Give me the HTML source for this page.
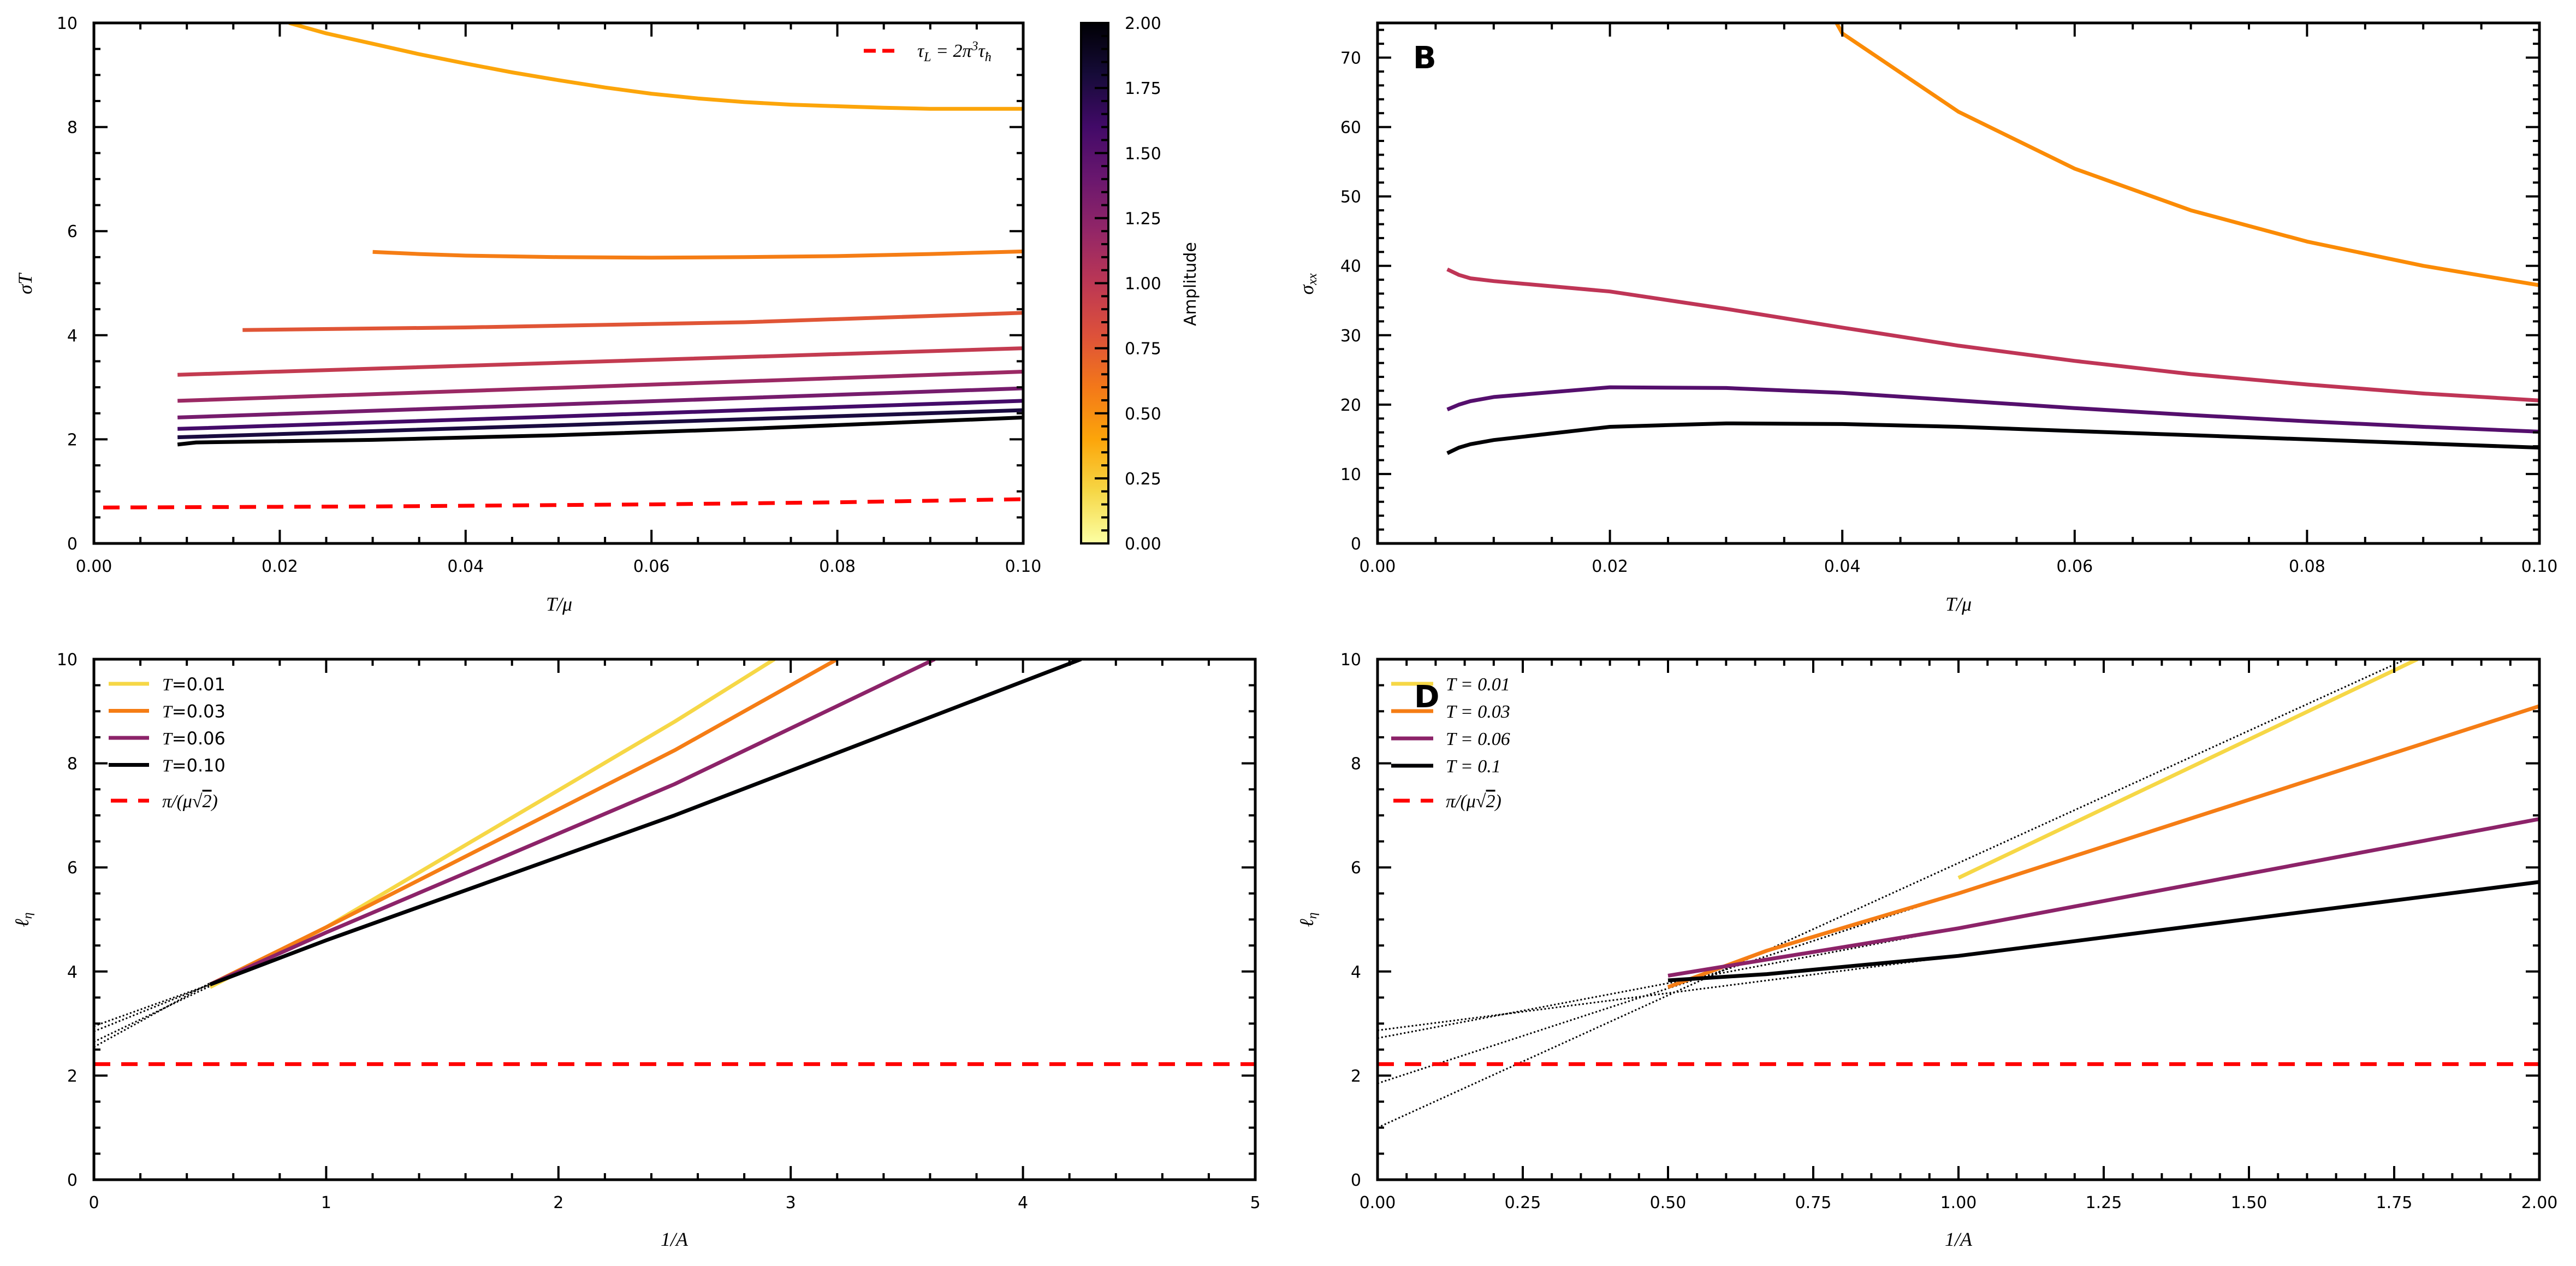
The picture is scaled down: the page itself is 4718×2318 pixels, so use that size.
<!DOCTYPE html>
<html><head><meta charset="utf-8"><style>
html,body{margin:0;padding:0;background:#fff;}
svg{display:block;}
text{font-family:"DejaVu Sans","Liberation Sans",sans-serif;}
.serif{font-family:"Liberation Serif","DejaVu Serif",serif;font-style:italic;}
</style></head><body>
<svg id="fig" xmlns="http://www.w3.org/2000/svg" width="4718" height="2318" viewBox="0 0 4718 2318">
<defs>
<linearGradient id="infernoGrad" x1="0" y1="1" x2="0" y2="0">
<stop offset="0" stop-color="#fcffa4"/><stop offset="0.1" stop-color="#f6d746"/><stop offset="0.2" stop-color="#fca50a"/><stop offset="0.3" stop-color="#f37819"/><stop offset="0.4" stop-color="#dd513a"/><stop offset="0.5" stop-color="#bc3754"/><stop offset="0.6" stop-color="#932667"/><stop offset="0.7" stop-color="#6a176e"/><stop offset="0.8" stop-color="#420a68"/><stop offset="0.9" stop-color="#160b39"/><stop offset="1" stop-color="#000004"/>
</linearGradient>
</defs>
</svg>
<script>
// ---------- Panel A data ----------
const aX1=[0.021,0.025,0.03,0.035,0.04,0.045,0.05,0.055,0.06,0.065,0.07,0.075,0.08,0.085,0.09,0.095,0.1];
const aY1=[10,9.8,9.6,9.4,9.22,9.05,8.9,8.76,8.64,8.55,8.48,8.43,8.4,8.37,8.35,8.35,8.35];
const aX2=[0.03,0.035,0.04,0.05,0.06,0.07,0.08,0.09,0.1];
const aY2=[5.6,5.56,5.53,5.5,5.49,5.5,5.52,5.56,5.61];
const aX3=[0.016,0.04,0.07,0.1];
const aY3=[4.1,4.15,4.25,4.43];
const aXs=[0.009,0.05,0.1];
const aY4=[3.24,3.47,3.75];
const aY5=[2.74,2.99,3.3];
const aY6=[2.42,2.67,2.98];
const aY7=[2.2,2.44,2.74];
const aY8=[2.04,2.27,2.56];
const aXk=[0.009,0.011,0.03,0.05,0.07,0.1];
const aYk=[1.9,1.94,1.99,2.08,2.2,2.42];
const aXr=[0.001,0.03,0.06,0.08,0.1];
const aYr=[0.69,0.71,0.75,0.79,0.85];
// ---------- Panel B data ----------
const bXo=[0.0395,0.04,0.05,0.06,0.07,0.08,0.09,0.1];
const bYo=[75,73.5,62.2,54,48,43.5,40,37.2];
const bX=[0.006,0.007,0.008,0.01,0.02,0.03,0.04,0.05,0.06,0.07,0.08,0.09,0.1];
const bYr=[39.5,38.7,38.2,37.8,36.3,33.8,31.1,28.5,26.3,24.4,22.9,21.6,20.6];
const bYp=[19.3,20,20.5,21.1,22.5,22.4,21.7,20.6,19.5,18.5,17.6,16.8,16.1];
const bYk=[13,13.8,14.3,14.9,16.8,17.3,17.2,16.8,16.2,15.6,15,14.4,13.8];
// ---------- Panel C data ----------
const cX=[0.5,1,2.5];
const cY1=[3.7,4.85,8.8]; const cXe1=2.93;
const cY3=[3.75,4.85,8.25]; const cXe3=3.2;
const cY6=[3.75,4.75,7.6]; const cXe6=3.62;
const cY10=[3.75,4.6,7.0]; const cXe10=4.25;
const cFitY0=[2.95,2.85,2.65,2.55];
const cFitY1=[3.75,3.75,3.72,3.78];
const cRed=2.22;
// ---------- Panel D data ----------
const dXy=[1.0,1.79]; const dYy=[5.8,10];
const dXo=[0.5,0.67,1.0,2.0]; const dYo=[3.7,4.4,5.5,9.1];
const dXp=[0.5,1.0,2.0]; const dYp=[3.92,4.83,6.93];
const dXk=[0.5,0.67,1.0,2.0]; const dYk=[3.83,3.95,4.3,5.72];
const dFitX1=[1.77,1.0,1.0,1.0];
const dFitY0=[1.0,1.85,2.72,2.87];
const dFitY1=[10,5.5,4.83,4.3];
const dRed=2.22;
// ---------- colorbar ----------
const cbTicks=[0,0.25,0.5,0.75,1.0,1.25,1.5,1.75,2.0];

const NS="http://www.w3.org/2000/svg";
const svg=document.getElementById('fig');
function el(tag,attrs,parent){const e=document.createElementNS(NS,tag);for(const k in attrs)e.setAttribute(k,attrs[k]);(parent||svg).appendChild(e);return e;}
function axes(name,px0,px1,py0,py1,x0,x1,y0,y1){
  const g=el('g',{});
  
  
  const cp=el('clipPath',{id:'clip-'+name},g);
  el('rect',{x:px0,y:py0,width:px1-px0,height:py1-py0},cp);
  const sx=v=>px0+(v-x0)/(x1-x0)*(px1-px0);
  const sy=v=>py1-(v-y0)/(y1-y0)*(py1-py0);
  const plot=el('g',{'clip-path':'url(#clip-'+name+')'},g);
  return {g,plot,sx,sy,px0,px1,py0,py1};
}
function frame(ax,xMaj,xMin,yMaj,yMin,xfmt,yfmt,x0,x1,y0,y1){
  const g=ax.g;
  const tk=el('g',{stroke:'#000','stroke-width':4},g);
  for(let i=0;x0+i*xMin<=x1+1e-9;i++){const v=x0+i*xMin;const isM=Math.abs(Math.round((v-x0)/xMaj)*xMaj-(v-x0))<1e-9;const L=isM?25:12;const X=ax.sx(v);
    el('line',{x1:X,x2:X,y1:ax.py1,y2:ax.py1-L},tk);el('line',{x1:X,x2:X,y1:ax.py0,y2:ax.py0+L},tk);}
  for(let i=0;y0+i*yMin<=y1+1e-9;i++){const v=y0+i*yMin;const isM=Math.abs(Math.round((v-y0)/yMaj)*yMaj-(v-y0))<1e-9;const L=isM?25:12;const Y=ax.sy(v);
    el('line',{y1:Y,y2:Y,x1:ax.px0,x2:ax.px0+L},tk);el('line',{y1:Y,y2:Y,x1:ax.px1,x2:ax.px1-L},tk);}
  for(let i=0;x0+i*xMaj<=x1+1e-9;i++){const v=x0+i*xMaj;const t=el('text',{x:ax.sx(v),y:ax.py1+52,'font-size':30,'text-anchor':'middle'},g);t.textContent=xfmt(v);
    
    }
  for(let i=0;y0+i*yMaj<=y1+1e-9;i++){const v=y0+i*yMaj;const t=el('text',{x:ax.px0-30,y:ax.sy(v)+11,'font-size':30,'text-anchor':'end'},g);t.textContent=yfmt(v);
    
    }
  el('rect',{x:ax.px0,y:ax.py0,width:ax.px1-ax.px0,height:ax.py1-ax.py0,fill:'none',stroke:'#000','stroke-width':5},g);
}
function line(ax,xs,ys,color,w,dash,name){
  const pts=xs.map((x,i)=>ax.sx(x).toFixed(1)+','+ax.sy(ys[i]).toFixed(1)).join(' ');
  const p=el('polyline',{points:pts,fill:'none',stroke:color,'stroke-width':w,'stroke-linejoin':'round'},ax.plot);
  if(dash)p.setAttribute('stroke-dasharray',dash);
  
  
  return p;
}
function txt(x,y,s,size,cls,anchor,name,extra){
  const t=el('text',Object.assign({x:x,y:y,'font-size':size,'text-anchor':anchor||'start'},extra||{}));
  if(cls)t.setAttribute('class',cls);
  t.innerHTML=s;
  
  
  return t;
}
const f2=v=>v.toFixed(2), f0=v=>String(Math.round(v));

// ===== Panel A =====
const A=axes('panel-a',172,1874,42,995,0,0.1,0,10);
line(A,aX1,aY1,'#fca50a',7,null,'curve-amp-0.4');
line(A,aX2,aY2,'#f57d15',7,null,'curve-amp-0.55');
line(A,aX3,aY3,'#e05536',7,null,'curve-amp-0.8');
line(A,aXs,aY4,'#c33b50',7,null,'curve-amp-1.0');
line(A,aXs,aY5,'#9b2964',7,null,'curve-amp-1.2');
line(A,aXs,aY6,'#761c6d',7,null,'curve-amp-1.4');
line(A,aXs,aY7,'#440b69',7,null,'curve-amp-1.6');
line(A,aXs,aY8,'#1a0b40',7,null,'curve-amp-1.8');
line(A,aXk,aYk,'#000004',7,null,'curve-amp-2.0');
line(A,aXr,aYr,'#ff0000',7,'30 20','tau-l-dashed');
frame(A,0.02,0.005,2,0.5,f2,f0,0,0.1,0,10);
el('line',{x1:1582,x2:1649,y1:93,y2:93,stroke:'#f00','stroke-width':7,'stroke-dasharray':'22 12'});
txt(1680,104,'τ<tspan font-size="24" dy="8">L</tspan><tspan dy="-8"> = 2π</tspan><tspan font-size="24" dy="-12">3</tspan><tspan dy="12">τ</tspan><tspan font-size="24" dy="8">ħ</tspan>',34,'serif','start','legend-tau-l');
txt(1024,1118,'T/μ',36,'serif','middle','x-axis-title-a');
txt(58,520,'σT',36,'serif','middle','y-axis-title-a',{transform:'rotate(-90 58 520)'});
// colorbar
const cb=el('g',{});


el('rect',{x:1980,y:42,width:50,height:953,fill:'url(#infernoGrad)'},cb);
for(let i=0;i<=40;i++){const v=i*0.05;const Y=995-v/2*953;const M=i%5===0;el('line',{x1:2030,x2:M?2005:2017,y1:Y,y2:Y,stroke:'#000','stroke-width':4},cb);}
el('rect',{x:1980,y:42,width:50,height:953,fill:'none',stroke:'#000','stroke-width':4},cb);
cbTicks.forEach(v=>{const t=el('text',{x:2060,y:995-v/2*953+11,'font-size':30},cb);t.textContent=v.toFixed(2);
  
  });
txt(2190,520,'Amplitude',30,null,'middle','colorbar-title',{transform:'rotate(-90 2190 520)'});

// ===== Panel B =====
const B=axes('panel-b',2523,4651,42,995,0,0.1,0,75);
line(B,bXo,bYo,'#fb8b05',7,null,'sigma-orange');
line(B,bX,bYr,'#bf3556',7,null,'sigma-crimson');
line(B,bX,bYp,'#550f6d',7,null,'sigma-purple');
line(B,bX,bYk,'#000004',7,null,'sigma-black');
frame(B,0.02,0.005,10,2,f2,f0,0,0.1,0,75);
txt(2588,125,'B',56,null,'start','panel-label-b',{'font-weight':'bold'});
txt(3587,1118,'T/μ',36,'serif','middle','x-axis-title-b');
txt(2405,520,'σ<tspan font-size="24" dy="6">xx</tspan>',36,'serif','middle','y-axis-title-b',{transform:'rotate(-90 2405 520)'});

// ===== Panel C =====
const C=axes('panel-c',172,2299,1207,2160,0,5,0,10);
[cY1,cY3,cY6,cY10].forEach((ys,i)=>{line(C,[0,0.5],[cFitY0[i],cFitY1[i]],'#000',3,'3 4','fit-dotted-c');});
line(C,cX.concat([cXe1]),cY1.concat([10]),'#f6d746',7,null,'ell-t001-c');
line(C,cX.concat([cXe3]),cY3.concat([10]),'#f57d15',7,null,'ell-t003-c');
line(C,cX.concat([cXe6]),cY6.concat([10]),'#8c2369',7,null,'ell-t006-c');
line(C,cX.concat([cXe10]),cY10.concat([10]),'#000004',7,null,'ell-t010-c');
line(C,[0,5],[cRed,cRed],'#ff0000',7,'30 20','bound-dashed-c');
frame(C,1,0.2,2,0.5,f0,f0,0,5,0,10);
const legC=[['#f6d746','T','=0.01'],['#f57d15','T','=0.03'],['#8c2369','T','=0.06'],['#000004','T','=0.10']];
legC.forEach((l,i)=>{const Y=1252+i*49.5;el('line',{x1:199,x2:273,y1:Y,y2:Y,stroke:l[0],'stroke-width':7});
  txt(297,Y+12,'<tspan class="serif" font-style="italic" font-family="Liberation Serif">T</tspan>'+l[2],32,null,'start','legend-entry-c');});
el('line',{x1:203,x2:273,y1:1466,y2:1466,stroke:'#f00','stroke-width':7,'stroke-dasharray':'30 20'});
txt(297,1478,'π/(μ√<tspan text-decoration="overline">2</tspan>)',34,'serif','start','legend-entry-c-bound');
txt(1235,2281,'1/A',36,'serif','middle','x-axis-title-c');
txt(52,1684,'ℓ<tspan font-size="24" dy="6">η</tspan>',36,'serif','middle','y-axis-title-c',{transform:'rotate(-90 52 1684)'});

// ===== Panel D =====
const D=axes('panel-d',2523,4651,1207,2160,0,2,0,10);
dFitX1.forEach((x,i)=>{line(D,[0,x],[dFitY0[i],dFitY1[i]],'#000',3,'3 4','fit-dotted-d');});
line(D,dXy,dYy,'#f6d746',7,null,'ell-t001-d');
line(D,dXo,dYo,'#f57d15',7,null,'ell-t003-d');
line(D,dXp,dYp,'#8c2369',7,null,'ell-t006-d');
line(D,dXk,dYk,'#000004',7,null,'ell-t01-d');
line(D,[0,2],[dRed,dRed],'#ff0000',7,'30 20','bound-dashed-d');
frame(D,0.25,0.05,2,0.5,f2,f0,0,2,0,10);
const legD=[['#f6d746','0.01'],['#f57d15','0.03'],['#8c2369','0.06'],['#000004','0.1']];
legD.forEach((l,i)=>{const Y=1252+i*50;el('line',{x1:2548,x2:2625,y1:Y,y2:Y,stroke:l[0],'stroke-width':7});
  txt(2648,Y+12,'T = '+l[1],34,'serif','start','legend-entry-d');});
el('line',{x1:2552,x2:2625,y1:1466,y2:1466,stroke:'#f00','stroke-width':7,'stroke-dasharray':'30 20'});
txt(2648,1478,'π/(μ√<tspan text-decoration="overline">2</tspan>)',34,'serif','start','legend-entry-d-bound');
txt(2590,1295,'D',56,null,'start','panel-label-d',{'font-weight':'bold'});
txt(3587,2281,'1/A',36,'serif','middle','x-axis-title-d');
txt(2405,1684,'ℓ<tspan font-size="24" dy="6">η</tspan>',36,'serif','middle','y-axis-title-d',{transform:'rotate(-90 2405 1684)'});
</script>
</body></html>
